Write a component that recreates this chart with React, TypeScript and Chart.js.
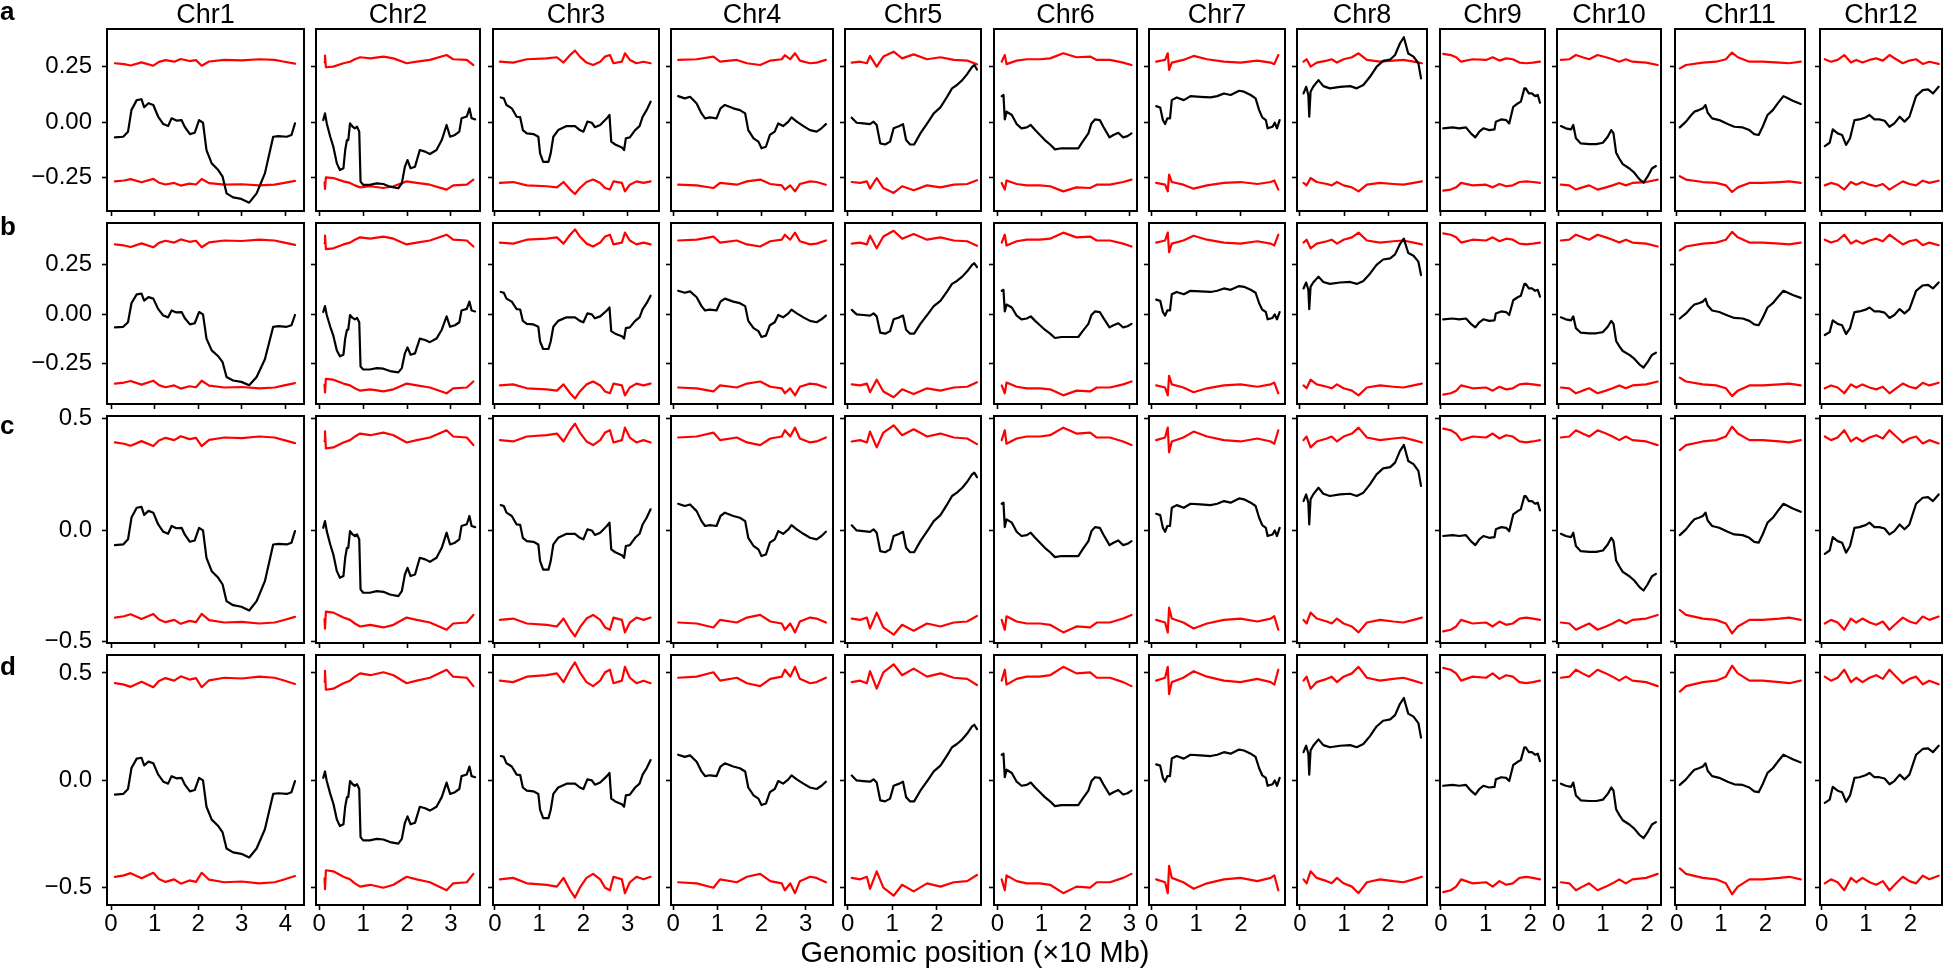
import React, { useEffect, useRef } from 'react';
import { Chart, registerables } from 'chart.js';
Chart.register(...registerables);

// ---------------- data ----------------
const chromosomes = ['Chr1', 'Chr2', 'Chr3', 'Chr4', 'Chr5', 'Chr6', 'Chr7', 'Chr8', 'Chr9', 'Chr10', 'Chr11', 'Chr12'];
const rowLabels = ['a', 'b', 'c', 'd'];

// x-axis limits (×10 Mb) and tick values per chromosome
const xMin = [-0.092, -0.075, -0.045, -0.052, -0.061, -0.075, -0.061, -0.068, -0.022, -0.038, -0.038, -0.038];
const xMax = [4.427, 3.661, 3.71, 3.621, 2.99, 3.175, 2.99, 2.886, 2.332, 2.315, 2.896, 2.715];
const xTicks = [
  [0, 1, 2, 3, 4], [0, 1, 2, 3], [0, 1, 2, 3], [0, 1, 2, 3], [0, 1, 2], [0, 1, 2, 3],
  [0, 1, 2], [0, 1, 2], [0, 1, 2], [0, 1, 2], [0, 1, 2], [0, 1, 2],
];

// y-axis limits and ticks per row
const yMin = [-0.3995, -0.4575, -0.508, -0.584];
const yMax = [0.4203, 0.4626, 0.5126, 0.584];
const yTicks = [[-0.25, 0, 0.25], [-0.25, 0, 0.25], [-0.5, 0, 0.5], [-0.5, 0, 0.5]];
const yTickLabels = [
  ['\u22120.25', '0.00', '0.25'],
  ['\u22120.25', '0.00', '0.25'],
  ['\u22120.5', '0.0', '0.5'],
  ['\u22120.5', '0.0', '0.5'],
];
// threshold level of each row relative to row a
const redScale = [1, 1.33, 1.48, 1.7];

// black statistic [position, value]
const chr1Black = [[0.09,-0.068],[0.28,-0.065],[0.39,-0.042],[0.47,0.056],[0.59,0.10],[0.70,0.104],[0.76,0.068],[0.86,0.086],[0.97,0.078],[1.08,0.026],[1.20,-0.008],[1.31,-0.017],[1.39,0.018],[1.50,0.008],[1.62,0.01],[1.69,-0.02],[1.81,-0.053],[1.92,-0.047],[2.02,0.01],[2.11,-0.002],[2.19,-0.125],[2.31,-0.185],[2.46,-0.215],[2.56,-0.245],[2.65,-0.32],[2.80,-0.338],[2.99,-0.345],[3.17,-0.362],[3.34,-0.32],[3.53,-0.23],[3.72,-0.065],[3.84,-0.062],[4.03,-0.065],[4.14,-0.057],[4.22,-0.005]];
const chr2Black = [[0.09,0.01],[0.13,0.04],[0.17,-0.005],[0.25,-0.065],[0.32,-0.11],[0.40,-0.185],[0.47,-0.215],[0.55,-0.207],[0.59,-0.125],[0.63,-0.08],[0.66,-0.08],[0.70,-0.005],[0.76,-0.02],[0.81,-0.027],[0.86,-0.02],[0.91,-0.042],[0.94,-0.267],[1.00,-0.282],[1.15,-0.282],[1.31,-0.275],[1.46,-0.278],[1.61,-0.29],[1.80,-0.297],[1.88,-0.275],[1.95,-0.20],[2.01,-0.17],[2.08,-0.207],[2.18,-0.20],[2.29,-0.125],[2.41,-0.132],[2.52,-0.143],[2.67,-0.125],[2.79,-0.08],[2.90,-0.012],[2.98,-0.065],[3.09,-0.057],[3.19,-0.042],[3.24,0.018],[3.36,0.026],[3.42,0.063],[3.47,0.018],[3.55,0.013]];
const chr3Black = [[0.13,0.112],[0.20,0.108],[0.26,0.078],[0.38,0.063],[0.49,0.025],[0.57,0.023],[0.63,-0.035],[0.72,-0.05],[0.87,-0.053],[0.98,-0.065],[1.02,-0.14],[1.09,-0.178],[1.21,-0.178],[1.26,-0.14],[1.32,-0.065],[1.43,-0.035],[1.62,-0.017],[1.81,-0.017],[1.92,-0.035],[2.0,-0.042],[2.09,0.003],[2.19,-0.002],[2.26,-0.022],[2.38,-0.012],[2.53,0.018],[2.59,0.033],[2.63,-0.087],[2.72,-0.10],[2.87,-0.113],[2.92,-0.125],[2.96,-0.072],[3.05,-0.068],[3.17,-0.035],[3.27,-0.017],[3.34,0.025],[3.43,0.055],[3.52,0.093]];
const chr4Black = [[0.11,0.118],[0.26,0.108],[0.38,0.115],[0.53,0.085],[0.64,0.04],[0.72,0.018],[0.83,0.022],[0.98,0.018],[1.07,0.063],[1.17,0.078],[1.36,0.063],[1.51,0.055],[1.63,0.04],[1.70,-0.035],[1.82,-0.072],[1.93,-0.087],[2.00,-0.117],[2.10,-0.11],[2.19,-0.057],[2.30,-0.042],[2.38,-0.005],[2.49,-0.017],[2.61,0.003],[2.68,0.022],[2.80,0.003],[2.95,-0.017],[3.10,-0.035],[3.25,-0.042],[3.36,-0.027],[3.46,-0.008]];
const chr5Black = [[0.09,0.021],[0.20,-0.002],[0.35,-0.005],[0.50,-0.008],[0.58,0.003],[0.65,-0.012],[0.73,-0.095],[0.84,-0.10],[0.95,-0.087],[1.03,-0.027],[1.16,-0.017],[1.24,-0.008],[1.31,-0.08],[1.40,-0.10],[1.49,-0.10],[1.63,-0.05],[1.81,0.003],[1.93,0.04],[2.08,0.067],[2.23,0.115],[2.34,0.153],[2.45,0.168],[2.57,0.19],[2.68,0.217],[2.79,0.25],[2.84,0.258],[2.90,0.238]];
const chr6Black = [[0.10,0.118],[0.14,0.123],[0.17,0.013],[0.21,0.048],[0.33,0.033],[0.44,-0.008],[0.55,-0.027],[0.67,-0.023],[0.76,-0.012],[0.86,-0.035],[0.97,-0.057],[1.08,-0.08],[1.20,-0.10],[1.31,-0.122],[1.46,-0.117],[1.65,-0.117],[1.84,-0.117],[1.94,-0.087],[2.07,-0.05],[2.14,-0.005],[2.22,0.013],[2.33,0.01],[2.41,-0.02],[2.55,-0.068],[2.64,-0.057],[2.75,-0.047],[2.86,-0.068],[2.96,-0.062],[3.05,-0.05]];
const chr7Black = [[0.10,0.073],[0.19,0.067],[0.25,0.01],[0.30,-0.008],[0.35,0.018],[0.41,0.018],[0.45,0.10],[0.56,0.112],[0.72,0.10],[0.87,0.118],[1.09,0.115],[1.32,0.112],[1.47,0.118],[1.62,0.13],[1.77,0.123],[1.96,0.142],[2.07,0.138],[2.22,0.123],[2.33,0.108],[2.41,0.055],[2.48,0.022],[2.56,0.01],[2.60,-0.027],[2.71,-0.02],[2.76,-0.002],[2.81,-0.027],[2.87,0.01]];
const chr8Black = [[0.08,0.13],[0.14,0.16],[0.19,0.123],[0.21,0.025],[0.24,0.138],[0.30,0.16],[0.42,0.19],[0.53,0.163],[0.68,0.153],[0.91,0.16],[1.14,0.163],[1.29,0.153],[1.44,0.168],[1.59,0.205],[1.74,0.25],[1.89,0.277],[2.05,0.283],[2.16,0.303],[2.27,0.355],[2.36,0.383],[2.46,0.31],[2.58,0.296],[2.69,0.266],[2.75,0.198]];
const chr9Black = [[0.05,-0.027],[0.26,-0.023],[0.41,-0.027],[0.56,-0.023],[0.67,-0.05],[0.77,-0.068],[0.86,-0.042],[0.95,-0.027],[1.08,-0.035],[1.20,-0.032],[1.23,0.003],[1.35,0.013],[1.46,0.01],[1.53,-0.005],[1.62,0.07],[1.72,0.085],[1.79,0.093],[1.87,0.153],[1.90,0.153],[1.97,0.13],[2.04,0.13],[2.11,0.118],[2.17,0.123],[2.22,0.088]];
const chr10Black = [[0.05,-0.017],[0.16,-0.027],[0.28,-0.032],[0.33,-0.012],[0.39,-0.072],[0.50,-0.095],[0.69,-0.098],[0.85,-0.098],[1.00,-0.092],[1.11,-0.065],[1.19,-0.035],[1.24,-0.05],[1.30,-0.137],[1.37,-0.163],[1.45,-0.188],[1.60,-0.208],[1.71,-0.227],[1.83,-0.257],[1.92,-0.272],[2.01,-0.245],[2.11,-0.208],[2.20,-0.197]];
const chr11Black = [[0.07,-0.023],[0.21,0.003],[0.33,0.033],[0.40,0.048],[0.50,0.055],[0.59,0.063],[0.65,0.078],[0.70,0.043],[0.80,0.018],[0.96,0.01],[1.15,-0.008],[1.30,-0.02],[1.49,-0.023],[1.64,-0.035],[1.75,-0.053],[1.85,-0.057],[1.94,-0.02],[2.05,0.033],[2.17,0.055],[2.28,0.085],[2.41,0.118],[2.51,0.108],[2.62,0.097],[2.80,0.082]];
const chr12Black = [[0.07,-0.107],[0.18,-0.092],[0.25,-0.032],[0.36,-0.05],[0.46,-0.057],[0.55,-0.102],[0.64,-0.072],[0.74,0.01],[0.85,0.013],[0.99,0.022],[1.08,0.033],[1.19,0.013],[1.30,0.013],[1.42,0.007],[1.53,-0.02],[1.64,-0.005],[1.76,0.025],[1.87,0.003],[1.98,0.025],[2.13,0.118],[2.28,0.145],[2.40,0.148],[2.51,0.13],[2.64,0.16]];

// red threshold (row a, upper; lower is its mirror) [position, value]
const chr1Red = [[0.09,0.266],[0.30,0.262],[0.45,0.256],[0.70,0.27],[0.97,0.255],[1.10,0.272],[1.25,0.28],[1.45,0.273],[1.60,0.285],[1.80,0.276],[1.95,0.28],[2.08,0.255],[2.25,0.274],[2.60,0.281],[3.00,0.279],[3.40,0.284],[3.75,0.281],[3.95,0.274],[4.22,0.264]];
const chr2Red = [[0.12,0.27],[0.13,0.30],[0.15,0.248],[0.32,0.251],[0.55,0.266],[0.70,0.273],[0.81,0.284],[0.93,0.293],[1.16,0.288],[1.46,0.296],[1.69,0.288],[1.99,0.266],[2.22,0.273],[2.52,0.281],[2.90,0.303],[3.05,0.284],[3.36,0.281],[3.51,0.258]];
const chr3Red = [[0.11,0.273],[0.41,0.269],[0.72,0.284],[1.17,0.288],[1.40,0.293],[1.55,0.269],[1.70,0.303],[1.81,0.323],[1.92,0.296],[2.07,0.269],[2.22,0.258],[2.38,0.273],[2.49,0.296],[2.60,0.303],[2.68,0.266],[2.87,0.273],[2.94,0.311],[3.05,0.281],[3.20,0.266],[3.36,0.273],[3.52,0.266]];
const chr4Red = [[0.11,0.281],[0.53,0.284],[0.91,0.296],[1.06,0.273],[1.44,0.281],[1.67,0.266],[1.97,0.258],[2.20,0.278],[2.46,0.284],[2.53,0.303],[2.65,0.284],[2.76,0.311],[2.87,0.278],[3.10,0.266],[3.25,0.269],[3.46,0.281]];
const chr5Red = [[0.09,0.269],[0.28,0.273],[0.43,0.266],[0.50,0.299],[0.65,0.251],[0.80,0.296],[1.03,0.318],[1.22,0.288],[1.48,0.306],[1.78,0.284],[2.08,0.293],[2.38,0.281],[2.68,0.278],[2.90,0.261]];
const chr6Red = [[0.10,0.273],[0.17,0.303],[0.21,0.262],[0.44,0.278],[0.67,0.284],[0.97,0.284],[1.20,0.288],[1.50,0.311],[1.80,0.293],[2.11,0.296],[2.26,0.281],[2.56,0.281],[2.86,0.269],[3.05,0.258]];
const chr7Red = [[0.10,0.273],[0.30,0.281],[0.36,0.311],[0.39,0.236],[0.45,0.269],[0.71,0.281],[0.94,0.299],[1.24,0.284],[1.62,0.273],[1.99,0.269],[2.37,0.278],[2.67,0.269],[2.75,0.262],[2.84,0.303]];
const chr8Red = [[0.08,0.273],[0.15,0.284],[0.24,0.251],[0.38,0.269],[0.61,0.278],[0.72,0.284],[0.84,0.269],[0.99,0.284],[1.18,0.293],[1.33,0.311],[1.52,0.281],[1.82,0.273],[2.12,0.278],[2.35,0.281],[2.58,0.273],[2.77,0.266]];
const chr9Red = [[0.05,0.308],[0.22,0.303],[0.34,0.293],[0.45,0.273],[0.71,0.284],[1.01,0.281],[1.16,0.293],[1.31,0.278],[1.46,0.288],[1.61,0.284],[1.76,0.269],[1.91,0.266],[2.06,0.269],[2.22,0.273]];
const chr10Red = [[0.05,0.281],[0.24,0.284],[0.39,0.303],[0.54,0.293],[0.69,0.284],[0.88,0.303],[1.07,0.293],[1.22,0.284],[1.37,0.273],[1.52,0.284],[1.67,0.273],[1.98,0.269],[2.24,0.258]];
const chr11Red = [[0.07,0.243],[0.21,0.258],[0.59,0.269],[0.89,0.273],[1.11,0.284],[1.25,0.314],[1.38,0.293],[1.64,0.273],[1.94,0.273],[2.32,0.269],[2.54,0.266],[2.80,0.273]];
const chr12Red = [[0.07,0.284],[0.21,0.273],[0.36,0.281],[0.51,0.303],[0.66,0.269],[0.78,0.281],[0.92,0.269],[1.08,0.281],[1.23,0.288],[1.38,0.278],[1.53,0.303],[1.68,0.284],[1.83,0.266],[1.98,0.278],[2.13,0.284],[2.28,0.263],[2.43,0.273],[2.64,0.263]];

const blackSeries = [chr1Black, chr2Black, chr3Black, chr4Black, chr5Black, chr6Black, chr7Black, chr8Black, chr9Black, chr10Black, chr11Black, chr12Black];
const redSeries = [chr1Red, chr2Red, chr3Red, chr4Red, chr5Red, chr6Red, chr7Red, chr8Red, chr9Red, chr10Red, chr11Red, chr12Red];

// ---------------- layout ----------------
const colLeft = [107, 316, 493, 671, 845, 994, 1149, 1297, 1440, 1557, 1675, 1820];
const colRight = [304, 480, 659, 833, 981, 1137, 1285, 1427, 1545, 1661, 1805, 1942];
const rowTop = [29, 223, 416, 655];
const rowBottom = [211, 404, 643, 905];
const FONT = "'Liberation Sans', Arial, Helvetica, sans-serif";

const framePlugin = {
  id: 'frame',
  afterDraw(chart: any) {
    const { ctx, chartArea: a } = chart;
    ctx.save();
    ctx.strokeStyle = '#000';
    ctx.lineWidth = 2;
    ctx.strokeRect(a.left, a.top, a.right - a.left, a.bottom - a.top);
    ctx.restore();
  },
};

function padsFor(r: number, c: number) {
  return { top: 16, right: 4, left: c === 0 ? 105 : 10, bottom: r === 3 ? 55 : 16 };
}

function makeChart(canvas: HTMLCanvasElement, r: number, c: number) {
  const p = padsFor(r, c);
  const pts = (arr: number[][], k: number) => arr.map(([x, y]) => ({ x, y: y * k }));
  const lineStyle = { pointRadius: 0, tension: 0, borderWidth: 2.2, fill: false, borderJoinStyle: 'round', borderCapStyle: 'round' };
  return new Chart(canvas, {
    type: 'line',
    data: {
      datasets: [
        { data: pts(blackSeries[c], 1), borderColor: '#000000', ...lineStyle },
        { data: pts(redSeries[c], redScale[r]), borderColor: '#ff0000', ...lineStyle },
        { data: pts(redSeries[c], -redScale[r]), borderColor: '#ff0000', ...lineStyle },
      ],
    },
    options: {
      responsive: false,
      animation: false,
      devicePixelRatio: 1,
      events: [],
      layout: { padding: { top: p.top, right: p.right, left: 0, bottom: 0 } },
      plugins: { legend: { display: false }, tooltip: { enabled: false }, title: { display: false } },
      scales: {
        x: {
          type: 'linear',
          position: 'bottom',
          min: xMin[c],
          max: xMax[c],
          afterBuildTicks: (s: any) => { s.ticks = xTicks[c].map((v) => ({ value: v })); },
          afterFit: (s: any) => { s.height = p.bottom; s.paddingLeft = 0; s.paddingRight = 0; },
          grid: { display: true, drawOnChartArea: false, drawTicks: true, tickLength: 5, tickWidth: 1.6, tickColor: '#000', color: '#000' },
          border: { display: false },
          ticks: {
            display: r === 3, color: '#000', font: { family: FONT, size: 24 }, padding: 0,
            maxRotation: 0, minRotation: 0, autoSkip: false,
            callback: (v: any) => String(v),
          },
        },
        y: {
          type: 'linear',
          position: 'left',
          min: yMin[r],
          max: yMax[r],
          afterBuildTicks: (s: any) => { s.ticks = yTicks[r].map((v) => ({ value: v })); },
          afterFit: (s: any) => { s.width = p.left; s.paddingTop = 0; s.paddingBottom = 0; },
          grid: { display: true, drawOnChartArea: false, drawTicks: true, tickLength: 5, tickWidth: 1.6, tickColor: '#000', color: '#000' },
          border: { display: false },
          ticks: {
            display: c === 0, color: '#000', font: { family: FONT, size: 24 }, padding: 10,
            autoSkip: false,
            callback: (_v: any, i: number) => yTickLabels[r][i],
          },
        },
      },
    },
    plugins: [framePlugin],
  } as any);
}

const panels: { r: number; c: number }[] = [];
for (let r = 0; r < 4; r++) for (let c = 0; c < 12; c++) panels.push({ r, c });

export default function App() {
  const refs = useRef<(HTMLCanvasElement | null)[]>([]);
  useEffect(() => {
    const charts = panels.map(({ r, c }, i) => makeChart(refs.current[i] as HTMLCanvasElement, r, c));
    return () => charts.forEach((ch) => ch.destroy());
  }, []);

  const rowLabelTop = [-2, 213, 412, 653];

  return (
    <div style={{ position: 'absolute', left: 0, top: 0, width: 1946, height: 971, background: '#fff', fontFamily: FONT, color: '#000' }}>
      {panels.map(({ r, c }, i) => {
        const p = padsFor(r, c);
        const w = colRight[c] - colLeft[c] + p.left + p.right;
        const h = rowBottom[r] - rowTop[r] + p.top + p.bottom;
        return (
          <canvas
            key={i}
            ref={(el) => { refs.current[i] = el; }}
            width={w}
            height={h}
            style={{ position: 'absolute', left: colLeft[c] - p.left, top: rowTop[r] - p.top, width: w, height: h }}
          />
        );
      })}
      {chromosomes.map((name, c) => (
        <div key={name} style={{ position: 'absolute', left: (colLeft[c] + colRight[c]) / 2, top: 1, transform: 'translateX(-50%)', fontSize: 27, lineHeight: 1, whiteSpace: 'nowrap' }}>
          {name}
        </div>
      ))}
      {rowLabels.map((lab, r) => (
        <div key={lab} style={{ position: 'absolute', left: 0, top: rowLabelTop[r], fontSize: 26, fontWeight: 'bold', lineHeight: 1 }}>
          {lab}
        </div>
      ))}
      <div style={{ position: 'absolute', left: 975, top: 938, transform: 'translateX(-50%)', fontSize: 29, lineHeight: 1, whiteSpace: 'nowrap' }}>
        Genomic position (×10 Mb)
      </div>
    </div>
  );
}
